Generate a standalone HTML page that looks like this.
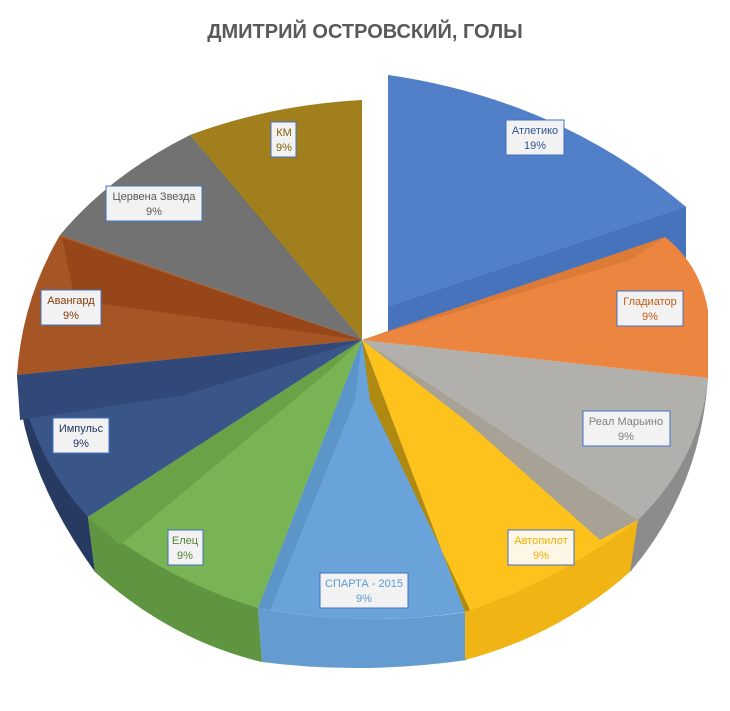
<!DOCTYPE html>
<html><head><meta charset="utf-8"><style>
body{margin:0;background:#fff;}
svg{display:block}
.t{font-family:"Liberation Sans",sans-serif;font-size:11px;text-anchor:middle}
</style></head><body>
<svg width="730" height="711" viewBox="0 0 730 711">
<text x="365" y="38" text-anchor="middle" font-family="Liberation Sans,sans-serif" font-weight="bold" font-size="20" fill="#595959">ДМИТРИЙ ОСТРОВСКИЙ, ГОЛЫ</text>
<!-- Atletico exploded -->
<path d="M388,75 Q560,100 686,207 L686,262 L388,332 Z" fill="#4673bb"/>
<path d="M388,75 Q560,100 686,207 L388,307 Z" fill="#5180c8"/>
<!-- side faces -->
<path d="M17,375 Q22,470 95,572 L88,517 Z" fill="#263a62"/>
<path d="M88,517 L95,572 Q170,640 262,662 L258,608 Z" fill="#5f9440"/>
<path d="M258,608 L262,662 Q362,675 467,660 L467,612 Q362,628 258,608 Z" fill="#649bd0"/>
<path d="M465,612 L465,660 Q560,635 632,570 L638,520 Z" fill="#f0b515"/>
<path d="M638,520 L630,572 Q700,490 708,378 Z" fill="#8c8c8c"/>
<!-- top faces -->
<path d="M362,340 L362,100 Q270,105 190,135 Z" fill="#a07f1c"/>
<path d="M362,340 L190,135 Q110,175 60,235 Z" fill="#727272"/>
<path d="M362,340 L235,190 L190,135 Z" fill="#666"/>
<path d="M362,340 L60,235 Q22,300 17,375 Z" fill="#a65624"/>
<path d="M362,340 L62,238 L75,300 Z" fill="#97461a"/>
<path d="M362,340 L17,375 Q35,460 88,517 Z" fill="#3a5588"/>
<path d="M362,340 L17,375 L20,420 L185,395 Z" fill="#324878"/>
<path d="M362,340 L88,517 Q165,580 258,608 Z" fill="#78b354"/>
<path d="M362,340 L88,517 L120,545 L330,370 Z" fill="#6aa347"/>
<path d="M362,340 L258,608 Q362,628 465,612 Z" fill="#6aa3d9"/>
<path d="M362,340 L258,608 L270,610 L355,400 Z" fill="#5c96c8"/>
<path d="M362,340 L465,612 Q560,580 638,520 Z" fill="#fdc21c"/>
<path d="M362,340 L465,612 L470,610 L370,400 Z" fill="#b08a10"/>
<path d="M362,340 L638,520 Q700,460 708,378 Z" fill="#b2b0ac"/>
<path d="M362,340 L638,520 L600,540 L465,420 Z" fill="#a8a296"/>
<path d="M362,340 L708,378 L708,310 Q700,265 665,237 Z" fill="#ec8540"/>
<path d="M362,340 L665,237 L630,260 Z" fill="#dc7a38"/>
<!-- labels -->
<g class="t">
<rect x="506" y="120" width="58" height="35" fill="#f2f2f2" stroke="#4472c4"/><text x="535" y="134" fill="#2f5597">Атлетико</text><text x="535" y="149" fill="#2f5597">19%</text>
<rect x="617" y="291" width="66" height="35" fill="#f2f2f2" stroke="#4472c4"/><text x="650" y="305" fill="#c55a11">Гладиатор</text><text x="650" y="320" fill="#c55a11">9%</text>
<rect x="583" y="411" width="87" height="35" fill="#f2f2f2" stroke="#4472c4"/><text x="626" y="425" fill="#808080">Реал Марьино</text><text x="626" y="440" fill="#808080">9%</text>
<rect x="508" y="530" width="66" height="35" fill="#fff7e6" stroke="#4472c4"/><text x="541" y="544" fill="#f0b000">Автопилот</text><text x="541" y="559" fill="#f0b000">9%</text>
<rect x="320" y="573" width="88" height="35" fill="#f2f2f2" stroke="#4472c4"/><text x="364" y="587" fill="#5b9bd5">СПАРТА - 2015</text><text x="364" y="602" fill="#5b9bd5">9%</text>
<rect x="168" y="530" width="35" height="35" fill="#f2f2f2" stroke="#4472c4"/><text x="185" y="544" fill="#548235">Елец</text><text x="185" y="559" fill="#548235">9%</text>
<rect x="53" y="418" width="56" height="35" fill="#f2f2f2" stroke="#4472c4"/><text x="81" y="432" fill="#203864">Импульс</text><text x="81" y="447" fill="#203864">9%</text>
<rect x="41" y="290" width="60" height="35" fill="#f2f2f2" stroke="#4472c4"/><text x="71" y="304" fill="#843c0c">Авангард</text><text x="71" y="319" fill="#843c0c">9%</text>
<rect x="106" y="186" width="96" height="35" fill="#f2f2f2" stroke="#4472c4"/><text x="154" y="200" fill="#595959">Цервена Звезда</text><text x="154" y="215" fill="#595959">9%</text>
<rect x="271" y="122" width="25" height="35" fill="#f2f2f2" stroke="#4472c4"/><text x="284" y="136" fill="#7f6000">КМ</text><text x="284" y="151" fill="#7f6000">9%</text>
</g>
</svg>
</body></html>
